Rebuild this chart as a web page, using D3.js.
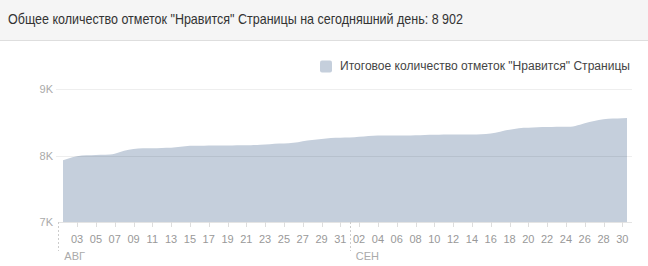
<!DOCTYPE html>
<html>
<head>
<meta charset="utf-8">
<script src="https://cdn.jsdelivr.net/npm/d3@7"></script>
<style>
  body { margin: 0; background: #fff; }
  svg { display: block; font-family: "Liberation Sans", Arial, sans-serif; }
</style>
</head>
<body>
<svg id="chart"></svg>
<script>
var width = 648;
var height = 266;

var title = 'Общее количество отметок "Нравится" Страницы на сегодняшний день: 8 902';
var legendLabel = 'Итоговое количество отметок "Нравится" Страницы';

// one value per day, Aug 1 .. Sep 30
var startDay = new Date(2013, 7, 1);
var likes = [
  7930, 7975, 8000, 8005, 8010, 8015, 8050, 8085, 8105, 8110,
  8110, 8115, 8125, 8140, 8145, 8145, 8148, 8150, 8150, 8152,
  8155, 8160, 8170, 8178, 8185, 8200, 8225, 8240, 8255, 8265,
  8270, 8275, 8285, 8295, 8298, 8300, 8300, 8300, 8302, 8310,
  8312, 8313, 8315, 8315, 8316, 8320, 8340, 8375, 8395, 8415,
  8420, 8425, 8428, 8430, 8432, 8460, 8500, 8530, 8550, 8555,
  8560
];
var yTicks = [7000, 8000, 9000];
var yTickLabels = ["7K", "8K", "9K"];
var monthLabels = ["АВГ", "СЕН"];

var areaColor = "#c5cfdc";

var data = likes.map(function (v, i) {
  return { day: d3.timeDay.offset(startDay, i), value: v };
});

var svg = d3.select("#chart")
  .attr("width", width)
  .attr("height", height);

// header band
svg.append("rect")
  .attr("x", 0).attr("y", 0)
  .attr("width", width).attr("height", 40)
  .attr("fill", "#f5f5f5");
svg.append("line")
  .attr("x1", 0).attr("x2", width)
  .attr("y1", 40.5).attr("y2", 40.5)
  .attr("stroke", "#dedede");
svg.append("text")
  .attr("x", 8).attr("y", 23.5)
  .attr("font-size", "15px")
  .attr("textLength", 455)
  .attr("lengthAdjust", "spacingAndGlyphs")
  .attr("fill", "#333")
  .text(title);

// legend
svg.append("rect")
  .attr("x", 320).attr("y", 60.5)
  .attr("width", 12).attr("height", 12)
  .attr("rx", 2)
  .attr("fill", areaColor);
svg.append("text")
  .attr("x", 340).attr("y", 70)
  .attr("font-size", "12.5px")
  .attr("textLength", 290)
  .attr("lengthAdjust", "spacingAndGlyphs")
  .attr("fill", "#444")
  .text(legendLabel);

var endDay = d3.timeDay.offset(startDay, likes.length);
var x = d3.scaleTime()
  .domain([startDay, endDay])
  .range([58.3, 631.7]);

var y = d3.scaleLinear()
  .domain([7000, 9000])
  .range([222.3, 88.7]);

// points sit in the middle of their day
function midX(d) {
  return x(d3.timeHour.offset(d.day, 12));
}

var area = d3.area()
  .x(midX)
  .y0(y(7000))
  .y1(function (d) { return y(d.value); })
  .curve(d3.curveMonotoneX);

svg.append("path")
  .datum(data)
  .attr("d", area)
  .attr("fill", areaColor);

// grid
var grid = svg.append("g");
grid.selectAll("line")
  .data(yTicks.slice(1))
  .enter().append("line")
  .attr("x1", 56).attr("x2", 632)
  .attr("y1", function (d) { return Math.round(y(d)) + 0.5; })
  .attr("y2", function (d) { return Math.round(y(d)) + 0.5; })
  .attr("stroke", "#000")
  .attr("stroke-opacity", 0.065);

svg.selectAll(".ylab")
  .data(yTicks)
  .enter().append("text")
  .attr("class", "ylab")
  .attr("x", 53)
  .attr("y", function (d) { return y(d) + 4; })
  .attr("text-anchor", "end")
  .attr("font-size", "11px")
  .attr("fill", "#aaa")
  .text(function (d, i) { return yTickLabels[i]; });

// x axis: ticks every second day counted from Aug 1
var tickDays = d3.timeDay.range(startDay, endDay).filter(function (d, i) {
  return i % 2 == 0 && i > 0;
});
var fmt = d3.timeFormat("%d");

svg.append("line")
  .attr("x1", 58).attr("x2", 632)
  .attr("y1", 222.5).attr("y2", 222.5)
  .attr("stroke", "#e4e4e4");

svg.selectAll(".xtick")
  .data(tickDays)
  .enter().append("line")
  .attr("class", "xtick")
  .attr("x1", function (d) { return Math.round(x(d)) + 0.5; })
  .attr("x2", function (d) { return Math.round(x(d)) + 0.5; })
  .attr("y1", 222).attr("y2", 227)
  .attr("stroke", "#ddd");

svg.selectAll(".xlab")
  .data(tickDays)
  .enter().append("text")
  .attr("class", "xlab")
  .attr("x", function (d) { return x(d); })
  .attr("y", 243)
  .attr("text-anchor", "middle")
  .attr("font-size", "11px")
  .attr("fill", "#999")
  .text(function (d) { return fmt(d); });

// month markers
var months = d3.timeMonth.range(startDay, endDay);
svg.selectAll(".mline")
  .data(months)
  .enter().append("line")
  .attr("class", "mline")
  .attr("x1", function (d) { return Math.round(x(d)) + 0.5; })
  .attr("x2", function (d) { return Math.round(x(d)) + 0.5; })
  .attr("y1", 222).attr("y2", 251)
  .attr("stroke", "#ccc")
  .attr("stroke-dasharray", "2,2");

svg.selectAll(".mlab")
  .data(months)
  .enter().append("text")
  .attr("class", "mlab")
  .attr("x", function (d) { return x(d) + 6; })
  .attr("y", 260)
  .attr("font-size", "11px")
  .attr("fill", "#aaa")
  .text(function (d, i) { return monthLabels[i]; });
</script>
</body>
</html>
